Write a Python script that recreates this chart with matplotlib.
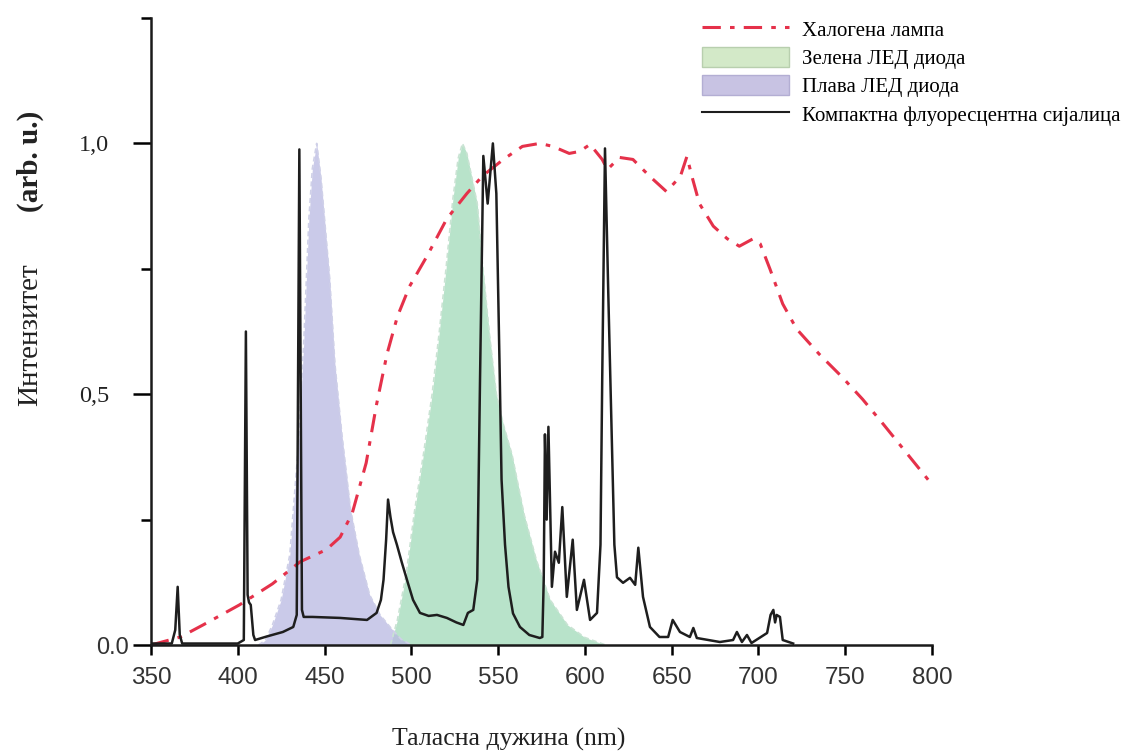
import matplotlib.pyplot as plt
from matplotlib.lines import Line2D
from matplotlib.patches import Patch
from matplotlib.transforms import ScaledTranslation

# halogen lamp (red dash-dot)
hal_x = [350, 367, 380, 401, 420, 436, 451, 459, 466, 474, 480, 486, 492, 499, 509, 520.5,
         532, 541, 553, 564, 574, 581.6, 591, 597, 603, 610, 613, 620, 627.7, 637.5, 647,
         655, 658.8, 661.7, 666, 674, 682, 689, 697, 701, 706.6, 714, 722, 735, 748, 760,
         772, 786, 800]
hal_y = [0.0, 0.016, 0.04, 0.08, 0.122, 0.166, 0.19, 0.215, 0.263, 0.363, 0.48, 0.58, 0.655,
         0.715, 0.775, 0.85, 0.90, 0.935, 0.968, 0.994, 1.0, 0.994, 0.98, 0.984, 0.998, 0.968,
         0.948, 0.972, 0.968, 0.934, 0.904, 0.934, 0.974, 0.934, 0.88, 0.835, 0.81, 0.795,
         0.81, 0.80, 0.75, 0.68, 0.63, 0.58, 0.535, 0.49, 0.44, 0.38, 0.32]

# green LED
grn_x = [488, 492, 497, 502, 507, 512, 516, 520, 524, 527, 529.5, 532, 535, 538, 541, 545,
         549, 553, 558, 565, 572, 580, 590, 600, 612]
grn_y = [0.0, 0.05, 0.14, 0.27, 0.38, 0.50, 0.62, 0.75, 0.89, 0.97, 1.0, 0.98, 0.93, 0.88,
         0.76, 0.62, 0.50, 0.44, 0.38, 0.26, 0.17, 0.09, 0.04, 0.015, 0.0]

# blue LED
blu_x = [412, 416, 420, 425, 430, 435, 438, 441, 443, 445.5, 448, 450, 453, 456, 460, 465,
         470, 476, 482, 488, 494, 500]
blu_y = [0.0, 0.01, 0.04, 0.09, 0.18, 0.40, 0.60, 0.85, 0.95, 1.0, 0.93, 0.85, 0.73, 0.56,
         0.42, 0.27, 0.18, 0.10, 0.06, 0.035, 0.012, 0.0]

# compact fluorescent lamp
cfl_x = [350, 362, 364, 365.4, 366.6, 368, 400, 403.5, 404.7, 405.7, 406.5, 407.5, 409, 410,
         416.7, 426, 432, 434, 435.5, 437, 438, 443, 459, 474.5, 480, 482.5, 484, 485.5,
         486.6, 488, 489.5, 491.7, 494.5, 497.5, 501, 505, 510, 514.8, 520.5, 526, 530,
         532.6, 535.7, 538, 539.6, 541.5, 544, 547, 549, 551, 552, 554, 556, 558.6, 562.6,
         568, 574, 575.5, 576.3, 577, 578, 579, 581, 582.8, 585, 587, 589.6, 593, 595.4,
         599.5, 603, 607, 609, 610, 611.6, 613.5, 615.6, 617, 618.5, 622, 626, 629, 630.8,
         633.5, 637.5, 643, 648, 650.6, 654.8, 660.5, 662.5, 664.5, 677.8, 685.4, 687.6,
         690.5, 693.4, 696, 705, 707, 708.6, 709.6, 710.5, 712.4, 714, 720]
cfl_y = [0.003, 0.003, 0.03, 0.116, 0.02, 0.003, 0.003, 0.01, 0.625, 0.1, 0.085, 0.08, 0.02,
         0.01, 0.017, 0.026, 0.036, 0.06, 0.988, 0.07, 0.056, 0.056, 0.054, 0.05, 0.064, 0.09,
         0.13, 0.21, 0.29, 0.255, 0.225, 0.20, 0.165, 0.13, 0.09, 0.064, 0.058, 0.06, 0.054,
         0.045, 0.04, 0.064, 0.07, 0.13, 0.53, 0.975, 0.88, 1.0, 0.9, 0.53, 0.33, 0.2, 0.116,
         0.063, 0.036, 0.02, 0.014, 0.016, 0.13, 0.42, 0.25, 0.435, 0.116, 0.186, 0.164,
         0.275, 0.096, 0.21, 0.07, 0.13, 0.05, 0.064, 0.2, 0.53, 0.99, 0.7, 0.4, 0.2, 0.135,
         0.124, 0.134, 0.12, 0.194, 0.096, 0.036, 0.016, 0.016, 0.05, 0.026, 0.016, 0.034,
         0.014, 0.006, 0.01, 0.026, 0.006, 0.02, 0.004, 0.024, 0.06, 0.07, 0.045, 0.06,
         0.056, 0.01, 0.003]

labels = ['Халогена лампа', 'Зелена ЛЕД диода', 'Плава ЛЕД диода',
          'Компактна флуоресцентна сијалица']
xticks = [350, 400, 450, 500, 550, 600, 650, 700, 750, 800]
yticks = [0.0, 0.5, 1.0]
ytick_labels = ['0.0', '0,5', '1,0']

green = '#a6dcbd'
purple = '#b9b9e2'
red = '#e5314a'
serif = 'Liberation Serif'
sans = 'Liberation Sans'

fig = plt.figure(figsize=(11.29, 7.56), dpi=100)
ax = fig.add_axes([0.1337, 0.1468, 0.6918, 0.8294])

ax.fill_between(grn_x, grn_y, color=green, alpha=0.8, lw=0)
ax.plot(grn_x, grn_y, color='#c9e3d3', lw=1.2, ls=(0, (3, 2)))
ax.fill_between(blu_x, blu_y, color=purple, alpha=0.75, lw=0)
ax.plot(blu_x, blu_y, color='#cfd0e8', lw=1.2, ls=(0, (3, 2)))
ax.plot(hal_x, hal_y, color=red, lw=2.2, ls=(0, (6, 3, 1.5, 3)))
ax.plot(cfl_x, cfl_y, color='#1e1e1e', lw=1.8)

ax.set_xlim(350, 800)
ax.set_ylim(0, 1.25)
for s in ['top', 'right']:
    ax.spines[s].set_visible(False)
for s in ['left', 'bottom']:
    ax.spines[s].set_linewidth(1.8)
    ax.spines[s].set_color('#1a1a1a')

ax.set_xticks(xticks)
ax.set_xticklabels([str(t) for t in xticks], fontfamily=sans, fontsize=17.5, color='#333333')
ax.tick_params(axis='x', length=7, width=1.8, pad=9)
ax.set_yticks(yticks)
ax.set_yticks([0.25, 0.75, 1.25], minor=True)
ax.set_yticklabels(ytick_labels, fontfamily=serif, fontsize=17.5, color='#222222')
ax.tick_params(axis='y', which='major', length=13, width=1.8, pad=17)
ax.tick_params(axis='y', which='minor', length=7, width=1.8)
lab0 = ax.get_yticklabels()[0]
lab0.set_fontfamily(sans)
lab0.set_fontsize(17)
lab0.set_color('#333333')
lab0.set_transform(lab0.get_transform() + ScaledTranslation(0.2, 0, fig.dpi_scale_trans))

fig.text(0.451, 0.022, 'Таласна дужина (nm)', fontfamily=serif, fontsize=18.5,
         ha='center', va='center', color='#222222')
fig.text(0.027, 0.557, 'Интензитет', fontfamily=serif, fontsize=21, rotation=90,
         ha='center', va='center', color='#222222')
fig.text(0.027, 0.787, '(arb. u.)', fontfamily=serif, fontsize=21, rotation=90,
         ha='center', va='center', fontweight='bold', color='#222222')

handles = [Line2D([], [], color=red, lw=2.2, ls=(0, (6, 3, 1.5, 3))),
           Patch(facecolor='#d3e9c8', edgecolor='#b8cfae'),
           Patch(facecolor='#c8c3e3', edgecolor='#b3aed3'),
           Line2D([], [], color='#1e1e1e', lw=1.5)]
fig.legend(handles, labels, loc='upper left', bbox_to_anchor=(0.605, 1.0),
           frameon=False, prop={'family': serif, 'size': 15}, handlelength=4.2,
           handleheight=1.1, labelspacing=0.3, handletextpad=0.6)

fig.savefig('out.png', dpi=100)
